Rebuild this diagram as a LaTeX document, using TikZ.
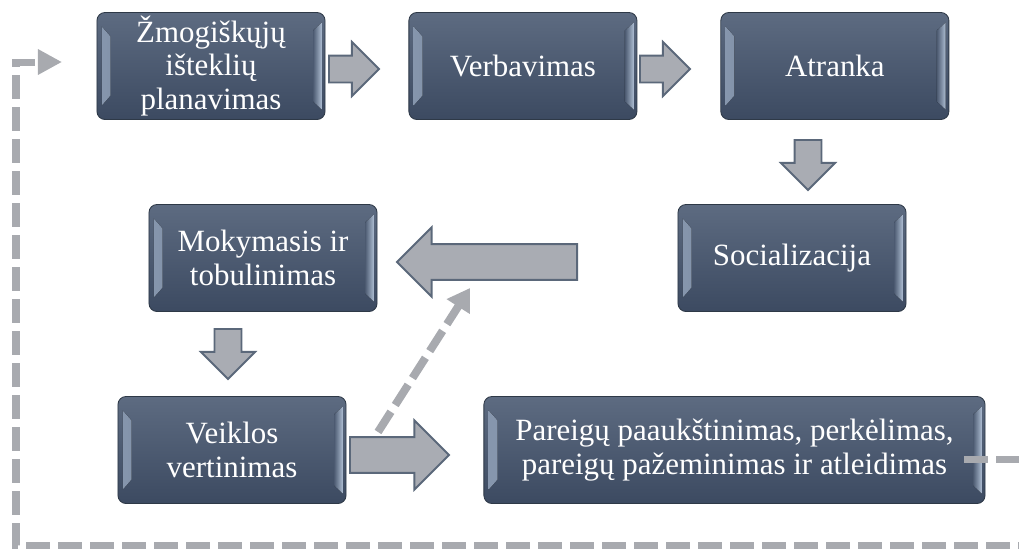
\documentclass[tikz,border=0pt]{standalone}
\usepackage{fontspec}
\setmainfont{Liberation Serif}
\usepackage{xcolor}
\usepackage{tikz}
\usetikzlibrary{shapes.arrows,arrows.meta,positioning,calc}

\definecolor{boxtop}{HTML}{5D6B81}
\definecolor{boxbottom}{HTML}{3C4A61}
\definecolor{boxline}{HTML}{2E3947}
\definecolor{bevelleft}{HTML}{8797AE}
\definecolor{bevelright}{HTML}{AEBED3}
\definecolor{arrowfill}{HTML}{A9ACB3}
\definecolor{arrowline}{HTML}{5B687A}
\definecolor{dashgray}{HTML}{A8AAAF}

\newcommand{\stagefont}{\fontsize{22}{24}\selectfont}

\begin{document}
\begin{tikzpicture}[
    x=0.025cm, y=-0.025cm,
    node distance=2.075cm,
    stage/.style={rectangle, rounded corners=0.2cm, draw=boxline, line width=0.6pt, top color=boxtop, bottom color=boxbottom, text=white, align=center, font=\stagefont, minimum width=5.7cm, minimum height=2.675cm, inner sep=0pt,
        path picture={
            \fill[sharp corners, left color=bevelleft, right color=boxtop!50!boxbottom]
                ([shift={(0.12cm,-0.35cm)}]path picture bounding box.north west) --
                ([shift={(0.34cm,-0.6cm)}]path picture bounding box.north west) --
                ([shift={(0.34cm,0.6cm)}]path picture bounding box.south west) --
                ([shift={(0.12cm,0.35cm)}]path picture bounding box.south west) -- cycle;
            \fill[sharp corners, left color=boxtop!50!boxbottom, right color=bevelright]
                ([shift={(-0.3cm,-0.45cm)}]path picture bounding box.north east) --
                ([shift={(-0.08cm,-0.25cm)}]path picture bounding box.north east) --
                ([shift={(-0.08cm,0.25cm)}]path picture bounding box.south east) --
                ([shift={(-0.3cm,0.45cm)}]path picture bounding box.south east) -- cycle;
        }},
    smallarrow/.style={single arrow, draw=arrowline, fill=arrowfill, line width=1.4pt, inner sep=0pt, inner ysep=0.3125cm, single arrow head extend=0.34cm, minimum height=1.25cm},
    bigarrow/.style={smallarrow, inner ysep=0.42cm, single arrow head extend=0.42cm},
    dasharrow/.style={draw=dashgray, line width=0.2cm, dash pattern=on 0.6cm off 0.2cm, -{Triangle[length=0.55cm, width=0.65cm]}}
]
    \useasboundingbox (0,0) rectangle (1019,548);
    \clip (0,0) rectangle (1019,548);

    % Top row
    \node[stage] (plan) at (211,66) {Žmogiškųjų\\išteklių\\planavimas};
    \node[stage, right=of plan] (verb) {Verbavimas};
    \node[stage, right=of verb] (atranka) {Atranka};

    % Middle row
    \node[stage] (social) at (792,258) {Socializacija};
    \node[stage, left=7.5cm of social] (mokymas) {Mokymasis ir\\tobulinimas};

    % Bottom row
    \node[stage] (veikla) at (232,450) {Veiklos\\vertinimas};
    \node[stage, minimum width=12.525cm, right=3.425cm of veikla] (pareigos) {Pareigų paaukštinimas, perkėlimas,\\pareigų pažeminimas ir atleidimas};

    % Block arrows
    \node[smallarrow, anchor=tail] (a1) at (328,69) {};
    \node[smallarrow, anchor=tail] (a2) at (639,69) {};
    \node[smallarrow, anchor=tail, rotate=-90] (a3) at (808,139) {};
    \node[bigarrow, anchor=tail, rotate=180, minimum height=4.5cm] (a4) at (578,262) {};
    \node[smallarrow, anchor=tail, rotate=-90] (a5) at (228,328) {};
    \node[bigarrow, anchor=tail, minimum height=2.475cm] (a6) at (349,455) {};

    % Dashed links
    \coordinate (dfrom) at (378,432);
    \coordinate (dto) at (470,288);
    \draw[dasharrow] (dfrom) -- (dto);

    \coordinate (fbout) at (964,459);
    \coordinate (fbin) at (62,62);
    \draw[dasharrow, line width=0.175cm, -{Triangle[length=0.6cm, width=0.6cm]}] (fbout) -- (1040,459) |- (16,545) |- (fbin);
\end{tikzpicture}
\end{document}
